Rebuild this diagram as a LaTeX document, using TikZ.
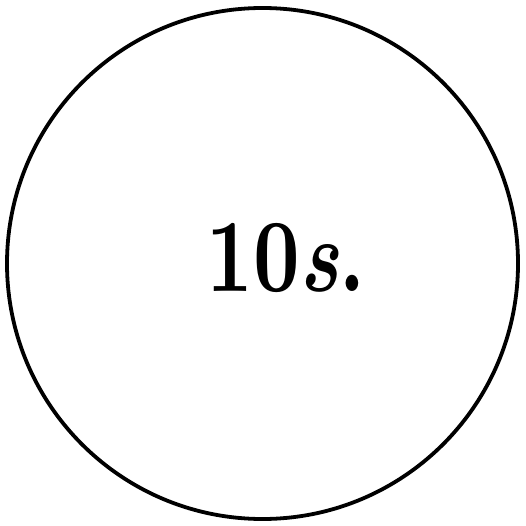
\documentclass[tikz,border=0pt]{standalone}
\usepackage{fontspec}
\usepackage{tikz}
\usetikzlibrary{positioning}
\newfontfamily\labelfont[Extension=.otf, ItalicFont=lmroman10-bolditalic]{lmroman10-bold}

\begin{document}
\begin{tikzpicture}[x=1pt, y=1pt]
        \useasboundingbox (0,0) rectangle (525,-526);
        % outer ring
        \node[draw, circle, line width=3.8pt, minimum size=511pt, inner sep=0pt] (ring) at (262.5,-263.5) {};
        % label inside the ring
        \node[font=\fontsize{104}{104}\selectfont\labelfont, xscale=0.78, transform shape, inner sep=0pt] (label) at (286,-258) {10\textit{s}.};
    \end{tikzpicture}
\end{document}
